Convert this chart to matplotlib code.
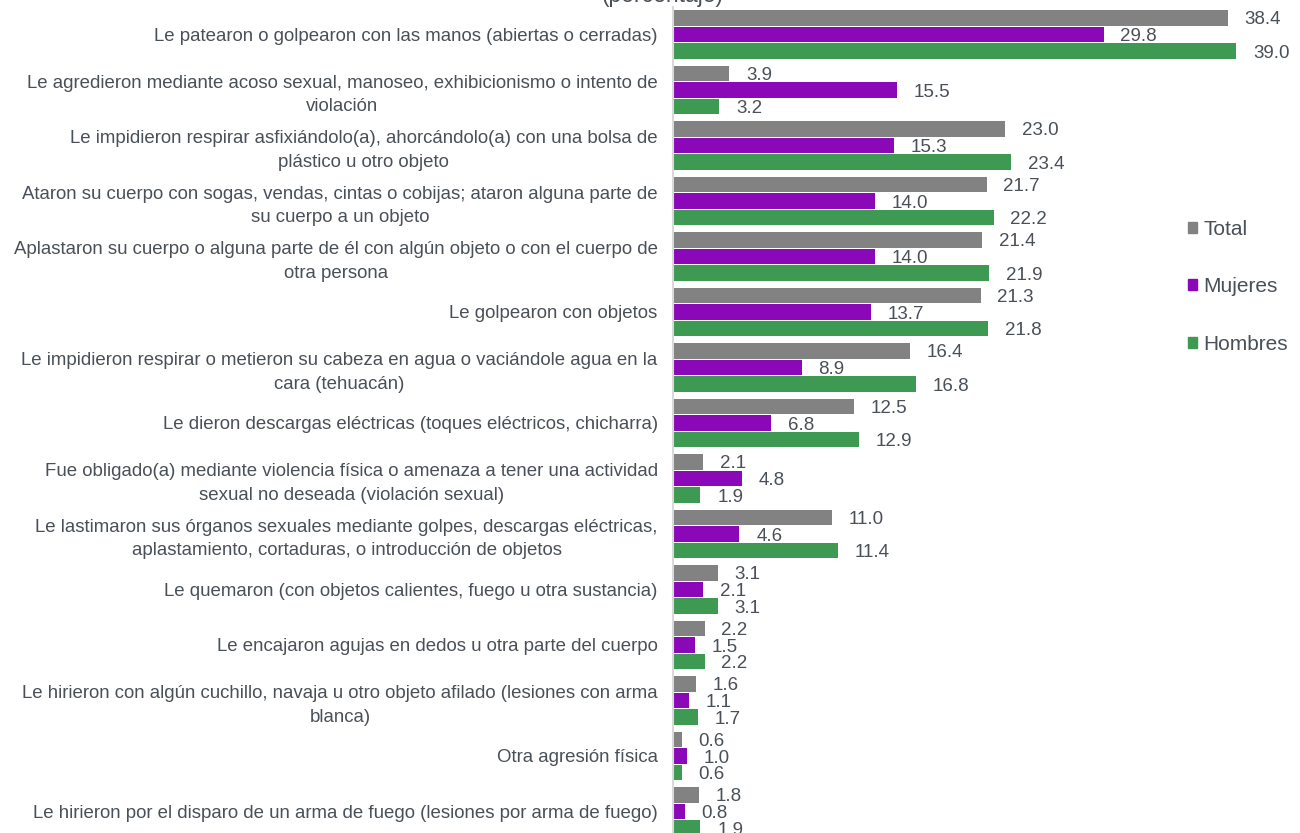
import numpy as np
import matplotlib
matplotlib.use("Agg")
import matplotlib.pyplot as plt
from matplotlib.patches import Patch

plt.rcParams['font.family'] = ['Liberation Sans', 'DejaVu Sans']

# Data (percentages)
categories = [
    "Le patearon o golpearon con las manos (abiertas o cerradas)",
    "Le agredieron mediante acoso sexual, manoseo, exhibicionismo o intento de\nviolación",
    "Le impidieron respirar asfixiándolo(a), ahorcándolo(a) con una bolsa de\nplástico u otro objeto",
    "Ataron su cuerpo con sogas, vendas, cintas o cobijas; ataron alguna parte de\nsu cuerpo a un objeto",
    "Aplastaron su cuerpo o alguna parte de él con algún objeto o con el cuerpo de\notra persona",
    "Le golpearon con objetos",
    "Le impidieron respirar o metieron su cabeza en agua o vaciándole agua en la\ncara (tehuacán)",
    "Le dieron descargas eléctricas (toques eléctricos, chicharra)",
    "Fue obligado(a) mediante violencia física o amenaza a tener una actividad\nsexual no deseada (violación sexual)",
    "Le lastimaron sus órganos sexuales mediante golpes, descargas eléctricas,\naplastamiento, cortaduras, o introducción de objetos",
    "Le quemaron (con objetos calientes, fuego u otra sustancia)",
    "Le encajaron agujas en dedos u otra parte del cuerpo",
    "Le hirieron con algún cuchillo, navaja u otro objeto afilado (lesiones con arma\nblanca)",
    "Otra agresión física",
    "Le hirieron por el disparo de un arma de fuego (lesiones por arma de fuego)",
]
total = [38.4, 3.9, 23.0, 21.7, 21.4, 21.3, 16.4, 12.5, 2.1, 11.0, 3.1, 2.2, 1.6, 0.6, 1.8]
mujeres = [29.8, 15.5, 15.3, 14.0, 14.0, 13.7, 8.9, 6.8, 4.8, 4.6, 2.1, 1.5, 1.1, 1.0, 0.8]
hombres = [39.0, 3.2, 23.4, 22.2, 21.9, 21.8, 16.8, 12.9, 1.9, 11.4, 3.1, 2.2, 1.7, 0.6, 1.9]

series = [("Total", total, "#828282"),
          ("Mujeres", mujeres, "#8b08b8"),
          ("Hombres", hombres, "#3e9a52")]

TEXT = "#4a5058"
STEP = 0.3
BAR_H = 0.28

fig = plt.figure(figsize=(13, 8.33), dpi=100)
ax = fig.add_axes([0.5177, -0.0075, 0.4823, 0.9994])

y = np.arange(len(categories))
for k, (name, vals, color) in enumerate(series):
    pos = y + (k - 1) * STEP
    ax.barh(pos, vals, height=BAR_H, color=color, label=name)
    for yy, v in zip(pos, vals):
        ax.annotate(f"{v:.1f}", (v, yy), xytext=(12, -1.5), textcoords='offset points',
                    ha='left', va='center', fontsize=13.5, color=TEXT)

ax.set_xlim(0, 43.4)
ax.set_ylim(len(categories) - 0.5, -0.5)
ax.set_yticks(y)
ax.set_yticklabels(categories, fontsize=13.4, color=TEXT, linespacing=1.5)
for lab in ax.get_yticklabels():
    lab.set_multialignment('center')
ax.tick_params(axis='y', length=0, pad=11)
ax.set_xticks([])
for s in ['top', 'right', 'bottom']:
    ax.spines[s].set_visible(False)
ax.spines['left'].set_color('#d9d9d9')
ax.spines['left'].set_linewidth(1.5)

handles = [Patch(color=c, label=n) for n, _, c in series]
fig.legend(handles=handles, loc='upper left', bbox_to_anchor=(1169 / 1300, 1 - 201 / 833),
           frameon=False, fontsize=15, labelcolor=TEXT, handlelength=0.45,
           handleheight=0.45, handletextpad=0.3, labelspacing=1.85)

fig.text(0.51, 1.0 - 2 / 833, "(porcentaje)", ha='center', va='baseline',
         fontsize=16.5, color=TEXT)

plt.savefig('out.png', dpi=100)
